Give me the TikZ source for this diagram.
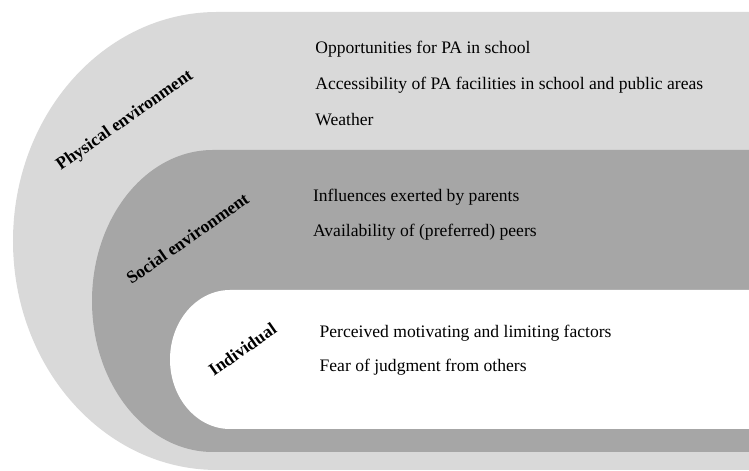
\documentclass[tikz,border=0pt]{standalone}
\usepackage{fontspec}
\setmainfont{Liberation Serif}
\usetikzlibrary{positioning}

\definecolor{physfill}{HTML}{D9D9D9}
\definecolor{socfill}{HTML}{A6A6A6}

\begin{document}
\begin{tikzpicture}[
    font=\fontsize{10}{12}\selectfont,
    node distance=7.2mm,
    % layer bands
    layer/.style      = {draw=none},
    % texts
    factor/.style     = {anchor=base west, inner sep=0pt},
    levellabel/.style = {font=\fontsize{10}{12}\selectfont\bfseries,
                          rotate=35, inner sep=0pt}
  ]
\useasboundingbox (0,0) rectangle (14.98,9.42);

% ============================================================
% Nested bands, rounded on the left, open to the right edge
% ============================================================
\fill[layer, physfill] (14.98,9.18) -- (4.34,9.18)
  arc[start angle=90, end angle=270, x radius=4.08, y radius=4.58]
  -- (14.98,0.02) -- cycle;
\fill[layer, socfill] (14.98,6.42) -- (4.26,6.42)
  arc[start angle=90, end angle=270, x radius=2.42, y radius=3.02]
  -- (14.98,0.38) -- cycle;
\fill[layer, white] (14.98,3.62) -- (4.60,3.62)
  arc[start angle=90, end angle=270, x radius=1.20, y radius=1.39]
  -- (14.98,0.84) -- cycle;

% ============================================================
% Level labels
% ============================================================
\node[levellabel] (physical) at (2.50,7.00) {Physical environment};
\node[levellabel] (social)   at (3.75,4.65) {Social environment};
\node[levellabel] (indiv)    at (4.85,2.43) {Individual};

% ============================================================
% Factors per level
% ============================================================
% physical environment
\node[factor] (opp) at (6.30,8.354) {Opportunities for PA in school};
\node[factor, below=of opp.base west, anchor=base west] (access)
  {Accessibility of PA facilities in school and public areas};
\node[factor, below=of access.base west, anchor=base west] (weather)
  {Weather};

% social environment
\node[factor] (parents) at (6.254,5.386) {Influences exerted by parents};
\node[factor, below=7mm of parents.base west, anchor=base west] (peers)
  {Availability of (preferred) peers};

% individual
\node[factor] (motiv) at (6.386,2.666) {Perceived motivating and limiting factors};
\node[factor, below=6.8mm of motiv.base west, anchor=base west] (fear)
  {Fear of judgment from others};

\end{tikzpicture}
\end{document}
